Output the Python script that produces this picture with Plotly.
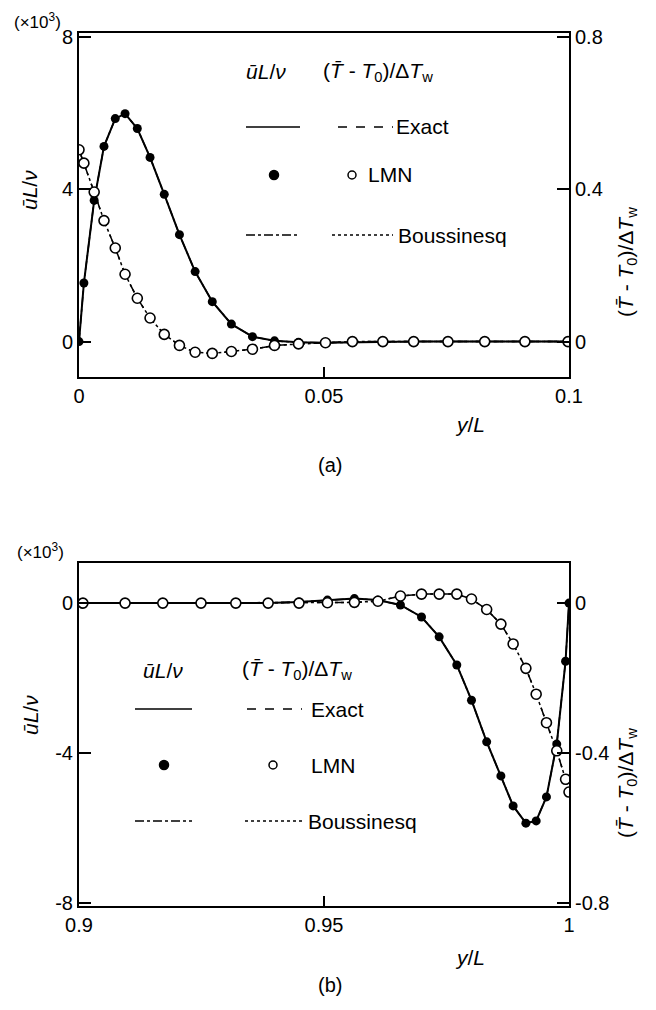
import plotly.graph_objects as go

# page body has an 8px default margin, so the figure is drawn 8px in from the window edge
OFF = 8
W, H = 656 - 2 * OFF, 1010 - 2 * OFF

# ---------------- data (panel a: near y/L = 0) ----------------
ya = [0.0, 0.0010, 0.0031, 0.0051, 0.0074, 0.0094, 0.0119, 0.0145, 0.0174, 0.0205,
      0.0237, 0.0272, 0.0311, 0.0354, 0.0399, 0.0448, 0.0503, 0.0558, 0.0620, 0.0683,
      0.0753, 0.0828, 0.0910, 0.0998]
ua = [0.0, 1.54, 3.71, 5.13, 5.86, 5.99, 5.60, 4.84, 3.87, 2.81,
      1.84, 1.05, 0.46, 0.13, 0.02, -0.02, -0.03, -0.02, 0.0, 0.0,
      0.0, 0.0, 0.0, 0.0]
Ta = [0.504, 0.469, 0.393, 0.318, 0.246, 0.177, 0.114, 0.062, 0.019, -0.010,
      -0.028, -0.031, -0.026, -0.020, -0.010, -0.006, -0.003, 0.0, 0.0, 0.0,
      0.0, 0.0, 0.0, 0.0]

# ---------------- data (panel b: near y/L = 1) ----------------
yb = [0.9008, 0.9094, 0.9171, 0.9249, 0.9320, 0.9386, 0.9449, 0.9507, 0.9562, 0.9610,
      0.9656, 0.9699, 0.9735, 0.9771, 0.9801, 0.9832, 0.9861, 0.9886, 0.9912, 0.9933,
      0.9954, 0.9975, 0.9993, 1.0]
ub = [0.0, 0.0, 0.0, 0.0, 0.0, 0.0, 0.03, 0.08, 0.12, 0.08,
      -0.05, -0.37, -0.90, -1.65, -2.59, -3.70, -4.61, -5.41, -5.87, -5.81,
      -5.17, -3.76, -1.55, 0.0]
Tb = [0.0, 0.0, 0.0, 0.0, 0.0, 0.0, 0.0, 0.001, 0.002, 0.005,
      0.019, 0.024, 0.024, 0.024, 0.011, -0.017, -0.056, -0.109, -0.174, -0.243,
      -0.319, -0.394, -0.470, -0.504]

FONT = "Liberation Sans"
BLACK = "black"


def px(x):
    return (x - OFF) / W


def py(y):
    return 1 - (y - OFF) / H


fig = go.Figure()


def add_panel(xv, uv, Tv, xa, yu, yt):
    # LMN u (filled)
    fig.add_trace(go.Scatter(x=xv, y=uv, mode="markers", xaxis=xa, yaxis=yu,
                             marker=dict(symbol="circle", size=9, color=BLACK),
                             showlegend=False, hoverinfo="skip"))
    # exact u (solid) and Boussinesq u (dash-dot)
    fig.add_trace(go.Scatter(x=xv, y=uv, mode="lines", xaxis=xa, yaxis=yu,
                             line=dict(color=BLACK, width=2), showlegend=False, hoverinfo="skip"))
    fig.add_trace(go.Scatter(x=xv, y=uv, mode="lines", xaxis=xa, yaxis=yu,
                             line=dict(color=BLACK, width=1.5, dash="dashdot"),
                             showlegend=False, hoverinfo="skip"))
    # exact T (dashed) and Boussinesq T (dotted)
    fig.add_trace(go.Scatter(x=xv, y=Tv, mode="lines", xaxis=xa, yaxis=yt,
                             line=dict(color=BLACK, width=1.5, dash="dash"),
                             showlegend=False, hoverinfo="skip"))
    fig.add_trace(go.Scatter(x=xv, y=Tv, mode="lines", xaxis=xa, yaxis=yt,
                             line=dict(color=BLACK, width=1.5, dash="dot"),
                             showlegend=False, hoverinfo="skip"))
    # LMN T (open)
    fig.add_trace(go.Scatter(x=xv, y=Tv, mode="markers", xaxis=xa, yaxis=yt,
                             marker=dict(symbol="circle", size=10, color="white",
                                         line=dict(color=BLACK, width=1.6)),
                             showlegend=False, hoverinfo="skip"))


add_panel(ya, ua, Ta, "x", "y", "y2")
add_panel(yb, ub, Tb, "x2", "y3", "y4")

tickfont = dict(family=FONT, size=20, color=BLACK)
common = dict(showgrid=False, zeroline=False, showline=True, linecolor=BLACK, linewidth=2,
              ticks="inside", tickcolor=BLACK, tickwidth=1.5, tickfont=tickfont,
              automargin=False)

xdom = [px(79), px(569)]
fig.update_layout(
    width=W, height=H, margin=dict(l=0, r=0, t=0, b=0, autoexpand=False),
    paper_bgcolor="white", plot_bgcolor="white", showlegend=False,
    xaxis=dict(domain=xdom, anchor="y", range=[0, 0.1], tickvals=[0, 0.05, 0.1],
               ticktext=["0", "0.05", "0.1"], ticklen=10, mirror=True, **common),
    yaxis=dict(domain=[py(377), py(33)], anchor="x", range=[-0.93, 8.11],
               tickvals=[0, 4, 8], ticktext=["0", "4", "8"], ticklen=12, **common),
    yaxis2=dict(overlaying="y", anchor="x", side="right", range=[-0.093, 0.811],
                tickvals=[0, 0.4, 0.8], ticktext=["0", "0.4", "0.8"], ticklen=12, **common),
    xaxis2=dict(domain=xdom, anchor="y3", range=[0.9, 1.0], tickvals=[0.9, 0.95, 1.0],
                ticktext=["0.9", "0.95", "1"], ticklen=10, mirror=True, **common),
    yaxis3=dict(domain=[py(906), py(563)], anchor="x2", range=[-8.08, 1.07],
                tickvals=[-8, -4, 0], ticktext=["-8", "-4", "0"], ticklen=12, **common),
    yaxis4=dict(overlaying="y3", anchor="x2", side="right", range=[-0.808, 0.107],
                tickvals=[-0.8, -0.4, 0], ticktext=["-0.8", "-0.4", "0"], ticklen=12, **common),
)

U_LABEL = "<i>ū</i><i>L</i>/<i>ν</i>"
T_LABEL = "(<i>T\u0304</i> - <i>T</i><sub>0</sub>)/Δ<i>T</i><sub>w</sub>"

ann = []
shapes = []


def text(x, y, s, size=21, xanchor="center", angle=0, pad=1):
    ann.append(dict(x=px(x), y=py(y), xref="paper", yref="paper", text=s, showarrow=False,
                    xanchor=xanchor, yanchor="middle", textangle=angle, borderpad=pad,
                    font=dict(family=FONT, size=size, color=BLACK)))


def hline(x0, x1, y, dash="solid", width=1.5):
    shapes.append(dict(type="line", xref="paper", yref="paper", x0=px(x0), x1=px(x1),
                       y0=py(y), y1=py(y), line=dict(color=BLACK, width=width, dash=dash)))


def circ(x, y, r, filled):
    shapes.append(dict(type="circle", xref="paper", yref="paper",
                       x0=px(x - r), x1=px(x + r), y0=py(y + r), y1=py(y - r),
                       fillcolor=BLACK if filled else "white",
                       line=dict(color=BLACK, width=1.5)))


# panel a texts
text(37, 21, "(×10<sup>3</sup>)", size=17, pad=0)
text(30, 190, U_LABEL, size=21, angle=-90)
text(627, 262, T_LABEL, size=21, angle=-90)
text(470, 425, "<i>y</i>/<i>L</i>", size=21)
text(330, 465, "(a)", size=20)

# panel a legend
text(266, 72, U_LABEL)
text(378, 72, T_LABEL)
hline(246, 300, 127, "solid", 1.5)
hline(338, 393, 127, "dash", 1.5)
text(394, 127, "Exact", xanchor="left")
circ(274, 175, 4.5, True)
circ(352, 175, 4, False)
text(366, 175, "LMN", xanchor="left")
hline(246, 300, 235, "dashdot", 1.5)
hline(332, 393, 235, "dot", 1.5)
text(396, 235, "Boussinesq", xanchor="left")

# panel b texts
text(40, 551, "(×10<sup>3</sup>)", size=17, pad=0)
text(30, 715, U_LABEL, size=21, angle=-90)
text(627, 783, T_LABEL, size=21, angle=-90)
text(470, 957, "<i>y</i>/<i>L</i>", size=21)
text(330, 985, "(b)", size=20)

# panel b legend
text(163, 670, U_LABEL)
text(297, 670, T_LABEL)
hline(135, 192, 709, "solid", 1.5)
hline(247, 302, 709, "dash", 1.5)
text(309, 709, "Exact", xanchor="left")
circ(164, 765, 4.5, True)
circ(273, 765, 4, False)
text(309, 765, "LMN", xanchor="left")
hline(135, 192, 821, "dashdot", 1.5)
hline(245, 302, 821, "dot", 1.5)
text(306, 821, "Boussinesq", xanchor="left")

fig.update_layout(annotations=ann, shapes=shapes)
fig.write_html("out.html")
